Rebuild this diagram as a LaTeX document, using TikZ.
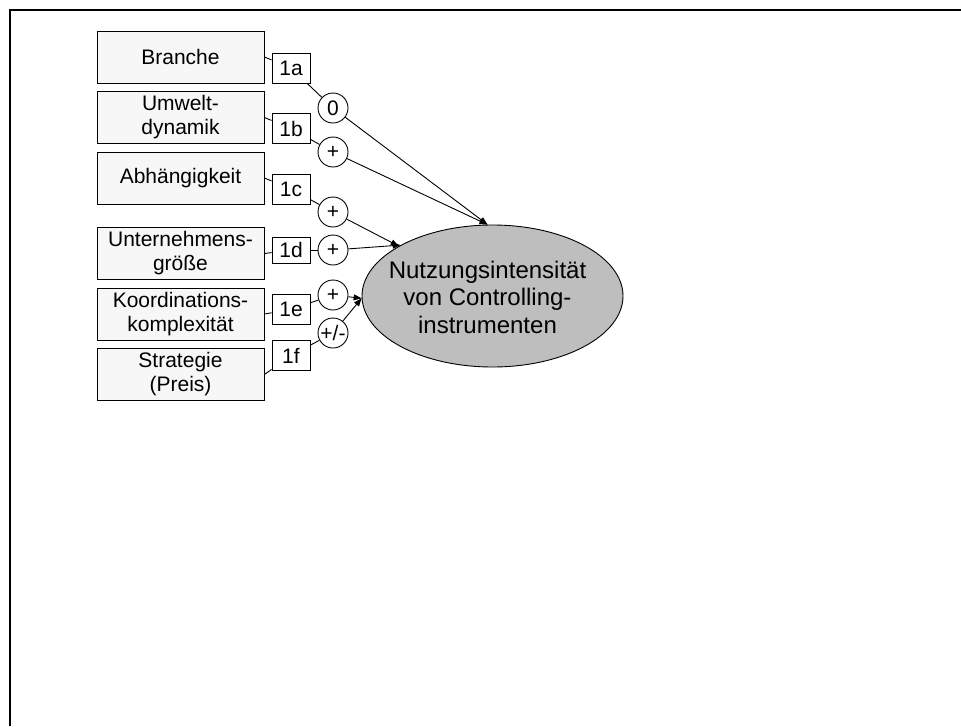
\documentclass[tikz,border=0pt]{standalone}
\usepackage{fontspec}
\setmainfont{Liberation Sans}
\usetikzlibrary{shapes.geometric,arrows.meta}
\definecolor{boxfill}{HTML}{F7F7F7}
\definecolor{ovalfill}{HTML}{BEBEBE}
\begin{document}
\begin{tikzpicture}[x=1pt,y=-1pt,
  txt/.style={font=\fontsize{21}{24}\selectfont},
  factor/.style={txt, draw, line width=0.9pt, fill=boxfill, minimum width=167pt,
    minimum height=52pt, inner sep=0pt, align=center},
  hyp/.style={txt, draw, line width=0.9pt, fill=white, minimum width=38pt,
    minimum height=30pt, inner sep=0pt},
  sign/.style={txt, draw, circle, line width=0.9pt, fill=white, minimum size=30pt,
    inner sep=0pt},
  link/.style={line width=0.9pt},
  effect/.style={line width=0.9pt, -{Triangle[length=8pt,width=6pt]}},
]
\useasboundingbox (0,0) rectangle (961,726);

% outer frame
\draw[line width=2pt] (10,726) -- (10,10) -- (961,10);

% dependent construct (text set in an empty box so the oval keeps its size)
\node[ellipse, draw, line width=0.9pt, fill=ovalfill, minimum width=261pt,
  minimum height=142pt, inner sep=0pt,
  font=\fontsize{24}{27.6}\selectfont] (outc) at (492.5,296)
  {\makebox[0pt]{\raisebox{-10.5pt}[0pt][0pt]{\begin{tabular}{@{}c@{}}Nutzungsintensität\\von Controlling-\\instrumenten\end{tabular}}\hspace*{10pt}}};

% influencing factors
\node[factor] (fa) at (180.5,57)    {Branche};
\node[factor] (fb) at (180.5,117.5) {Umwelt-\\dynamik};
\node[factor] (fc) at (180.5,178)   {Abhängigkeit};
\node[factor] (fd) at (180.5,253.5) {Unternehmens-\\größe};
\node[factor] (fe) at (180.5,314)   {Koordinations-\\komplexität};
\node[factor] (ff) at (180.5,374.5) {Strategie\\(Preis)};

% hypothesis labels
\node[hyp] (ha) at (291,68)    {1a};
\node[hyp] (hb) at (291,128.5) {1b};
\node[hyp] (hc) at (291,189)   {1c};
\node[hyp, minimum height=26pt] (hd) at (291,250) {1d};
\node[hyp] (he) at (291,309.5) {1e};
\node[hyp] (hf) at (291,355.5) {1f};

% expected signs
\node[sign] (sa) at (333,108) {0};
\node[sign] (sb) at (333,152) {+};
\node[sign] (sc) at (333,212) {+};
\node[sign] (sd) at (333,250) {+};
\node[sign] (se) at (333,295) {+};
\node[sign] (sf) at (333,333) {+/-};

% factor -> label -> sign
\foreach \k in {a,b,c,d,e,f}{
  \draw[link] (f\k.east) -- (h\k);
  \draw[link] (h\k) -- (s\k);
}

% effects on the construct
\draw[effect] (sa) -- (outc.94);
\draw[effect] (sb) -- (outc.94);
\draw[effect] (sc) -- (outc.152);
\draw[effect] (sd) -- (outc.151);
\draw[effect] (se) -- (outc.181);
\draw[effect] (sf) -- (outc.181);
\end{tikzpicture}
\end{document}
